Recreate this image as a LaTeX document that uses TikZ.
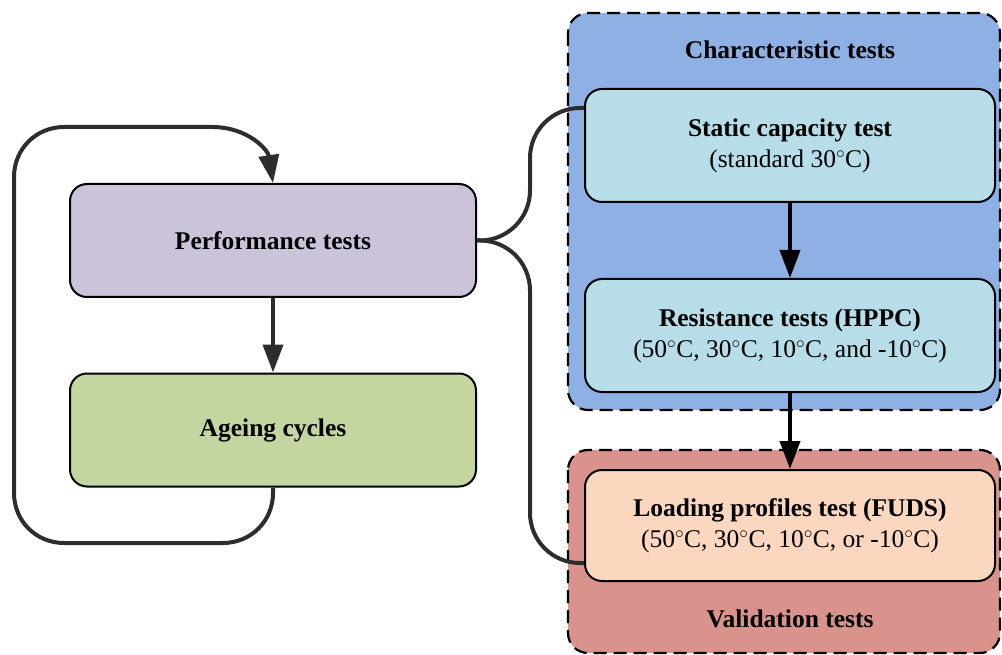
\documentclass[tikz,border=0pt]{standalone}
\usepackage{fontspec}
\setmainfont{Liberation Serif}
\usetikzlibrary{arrows.meta}
\definecolor{perfc}{RGB}{203,195,218}
\definecolor{agec}{RGB}{196,214,160}
\definecolor{charc}{RGB}{142,176,228}
\definecolor{valc}{RGB}{217,146,140}
\definecolor{testc}{RGB}{182,221,232}
\definecolor{loadc}{RGB}{250,215,190}
\definecolor{connc}{RGB}{45,45,45}
\newcommand{\dg}{\ensuremath{^{\circ}}}
\begin{document}
\begin{tikzpicture}[x=1pt,y=-1pt,
  box/.style={draw=black, line width=2pt, rounded corners=17pt, minimum width=406pt,
    minimum height=113pt, align=center, inner sep=0pt, font=\fontsize{25.5}{31}\selectfont},
  testbox/.style={box, fill=testc, minimum width=410pt},
  groupbox/.style={draw=black, line width=2.2pt, dash pattern=on 13pt off 7pt, rounded corners=20pt},
  grouplabel/.style={font=\fontsize{25.5}{29}\selectfont\bfseries, inner sep=0pt},
  conn/.style={draw=connc, line width=4pt, -{Triangle[length=28pt,width=20pt]}},
  link/.style={draw=connc, line width=4pt, rounded corners=50pt},
  darrow/.style={draw=black, line width=4pt, -{Triangle[length=28pt,width=20pt]}}
]
\useasboundingbox (0,0) rectangle (1002,655);
\clip (0,0) rectangle (1002,655);
% groups
\draw[groupbox, fill=charc] (568,13) rectangle (1000,410);
\draw[groupbox, fill=valc] (568,450) rectangle (1000,653);
\node[grouplabel] (chl) at (790,50) {Characteristic tests};
\node[grouplabel] (vall) at (790,619) {Validation tests};
% left nodes
\node[box, fill=perfc] (perf) at (273,240.5) {\bfseries Performance tests};
\node[box, fill=agec] (age) at (273,430) {\bfseries Ageing cycles};
% right nodes
\node[testbox] (stat) at (790,145.5) {\textbf{Static capacity test}\\(standard 30\dg C)};
\node[testbox] (res) at (790,335.5) {\textbf{Resistance tests (HPPC)}\\(50\dg C, 30\dg C, 10\dg C, and -10\dg C)};
\node[testbox, fill=loadc, minimum height=111pt] (load) at (790,525.5) {\textbf{Loading profiles test (FUDS)}\\(50\dg C, 30\dg C, 10\dg C, or -10\dg C)};
% connectors
\draw[conn] (perf.south) -- (age.north);
\draw[conn] (age.south) -- (273,493) .. controls (273,521) and (251,543) .. (223,543)
  -- (64,543) .. controls (36,543) and (14,521) .. (14,493)
  -- (14,177) .. controls (14,149) and (36,127) .. (64,127)
  -- (212,127) .. controls (248,127) and (268,150) .. (perf.north);
\draw[link] (perf.east) -- (530,240.5) -- (530,108) -- ([yshift=37.5pt]stat.west);
\draw[link] (perf.east) -- (530,240.5) -- (530,563) -- ([yshift=-37.5pt]load.west);
\draw[darrow] (stat.south) -- (res.north);
\draw[darrow] (res.south) -- (load.north);
\end{tikzpicture}
\end{document}
